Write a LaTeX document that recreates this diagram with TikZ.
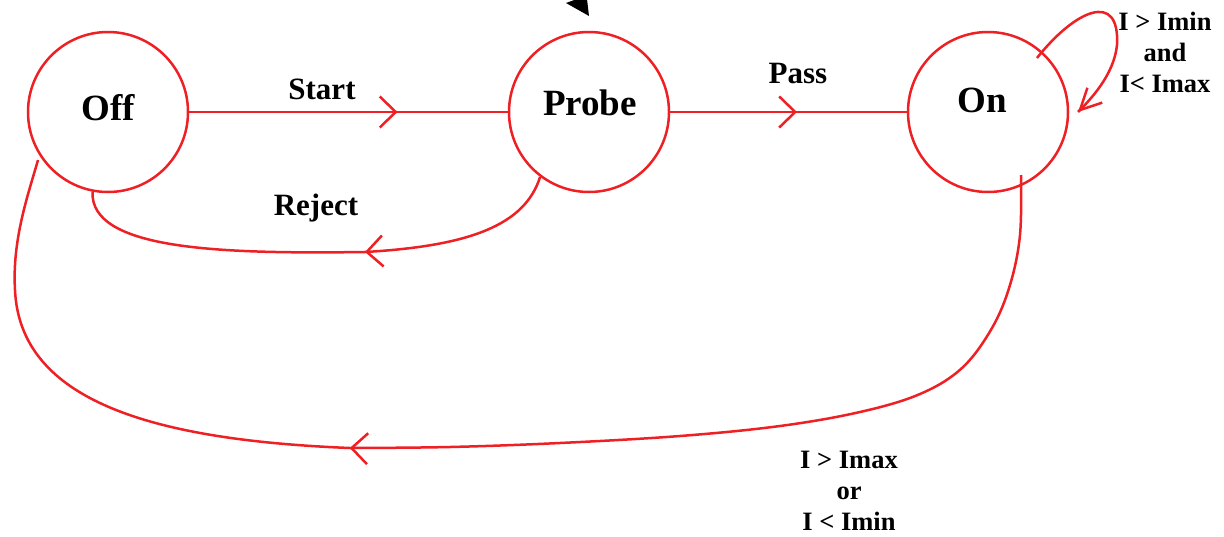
\documentclass[tikz,border=0pt]{standalone}
\usepackage{fontspec}
\setmainfont{Liberation Serif}
\usetikzlibrary{arrows.meta,decorations.markings,calc}
\definecolor{lred}{RGB}{238,32,36}
\tikzset{
  state/.style={circle, draw=lred, line width=2.5pt, minimum size=160pt, inner sep=0pt},
  edge/.style={draw=lred, line width=2.5pt},
  chev/.style={postaction={decorate}, decoration={markings,
      mark=at position #1 with {\arrow{Straight Barb[length=16pt,width=31pt]}}}},
  chevs/.style={postaction={decorate}, decoration={markings,
      mark=at position #1 with {\arrow{Straight Barb[length=21pt,width=21pt]}}}},
  statetext/.style={font=\bfseries\fontsize{37}{40}\selectfont, inner sep=0pt},
  lbl/.style={font=\bfseries\fontsize{31}{34}\selectfont, inner sep=0pt},
  cond/.style={font=\bfseries\fontsize{26.5}{31}\selectfont, align=center, inner sep=0pt},
}
\begin{document}
\begin{tikzpicture}[x=1pt, y=-1pt]
\useasboundingbox (0,0) rectangle (1224,536);
\clip (0,0) rectangle (1224,536);
% states
\node[state] (off) at (108,112) {};
\node[state] (probe) at (589,112) {};
\node[state] (on) at (988,112) {};
\node[statetext] (offt) at (108,108) {Off};
\node[statetext] (probet) at (590,103) {Probe};
\node[statetext] (ont) at (982,100) {On};
% black partial arrowhead at top
\fill[black] (566,3) -- (577,-1) -- (587,-1) -- (589,16) -- cycle;
% Start
\draw[edge, chev=0.654] (off.east) -- (probe.west);
\node[lbl] (startl) at (322,89) {Start};
% Pass
\draw[edge, chev=0.536] (probe.east) -- (on.west);
\node[lbl] (passl) at (798,73) {Pass};
% Reject
\coordinate (rj) at (365,252);
\draw[edge, chev=1] (probe.233) .. controls (525,225) and (470,246) .. (rj);
\draw[edge] (rj) .. controls (220,254) and (90,250) .. (off.259);
\node[lbl] (rejl) at (316,208) {Reject};
% self loop on On
\coordinate (lps) at ($(on.center)+(49,-54)$);
\coordinate (lpe) at ($(on.center)+(90,0)$);
\draw[edge, chevs=1] (lps) .. controls (1075,10) and (1120,-10) .. (1117,45)
   .. controls (1114,75) and (1090,100) .. (lpe);
\node[cond] (loopl) at (1165,52) {I > Imin\\and\\I< Imax};
% On -> Off
\coordinate (onb) at ($(on.center)+(33,63)$);
\coordinate (bt) at (350,448);
\coordinate (offb) at ($(off.center)+(-70,48)$);
\draw[edge] plot[smooth, tension=0.6] coordinates {(onb) (1020,235) (1010,285)
   (992,328) (962,368) (920,394) (860,412) (780,426) (680,436) (560,443) (450,447) (bt)};
\draw[edge, chev=0.2pt] (bt) .. controls (150,440) and (20,400) .. (15,290)
   .. controls (12,240) and (28,195) .. (offb);
\node[cond] (offl) at (849,491) {I > Imax\\or\\I < Imin};
\end{tikzpicture}
\end{document}
